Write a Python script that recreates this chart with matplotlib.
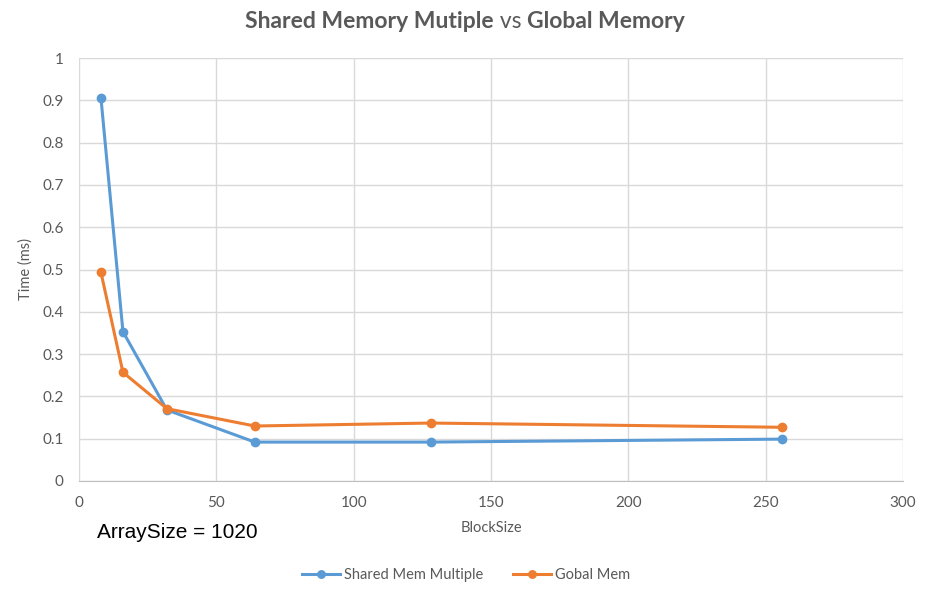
import matplotlib.pyplot as plt

# data
block_size = [8, 16, 32, 64, 128, 256]
shared_mem = [0.905, 0.353, 0.168, 0.092, 0.092, 0.099]
global_mem = [0.493, 0.257, 0.171, 0.130, 0.137, 0.127]

x_ticks = [0, 50, 100, 150, 200, 250, 300]
y_ticks = [0, 0.1, 0.2, 0.3, 0.4, 0.5, 0.6, 0.7, 0.8, 0.9, 1]

blue = '#5B9BD5'
orange = '#ED7D31'
grey_text = '#595959'

plt.rcParams['font.family'] = ['Lato', 'DejaVu Sans']

fig = plt.figure(figsize=(9.31, 5.96), dpi=100)
ax = fig.add_axes([79 / 931, 1 - 481 / 596, (903 - 79) / 931, (481 - 58) / 596])

ax.plot(block_size, shared_mem, color=blue, lw=2.2, marker='o', ms=6,
        label='Shared Mem Multiple', zorder=3)
ax.plot(block_size, global_mem, color=orange, lw=2.2, marker='o', ms=6,
        label='Gobal Mem', zorder=3)

ax.set_xlim(0, 300)
ax.set_ylim(0, 1)
ax.set_xticks(x_ticks)
ax.set_yticks(y_ticks)
ax.set_yticklabels([('%g' % v) for v in y_ticks])
ax.grid(True, color='#D9D9D9', lw=1)
ax.set_axisbelow(True)
for side in ['top', 'right', 'left']:
    ax.spines[side].set_visible(False)
ax.spines['bottom'].set_color('#BFBFBF')
ax.tick_params(length=0, colors=grey_text, labelsize=11)
ax.tick_params(axis='x', pad=11)
ax.tick_params(axis='y', pad=11)

ax.set_xlabel('BlockSize', color=grey_text, fontsize=10.5, labelpad=8)
ax.set_ylabel('Time (ms)', color=grey_text, fontsize=10.5, labelpad=7)

# title: bold parts with a regular "vs" in between
t1 = fig.text(0.5, 1 - 22 / 596, 'Shared Memory Mutiple', fontsize=16.5, fontweight='bold',
              color=grey_text, ha='right', va='center')
t2 = ax.annotate(' vs ', xy=(1, 0), xycoords=t1, va='bottom', ha='left',
                 fontsize=16.5, color=grey_text)
t3 = ax.annotate('Global Memory', xy=(1, 0), xycoords=t2, va='bottom', ha='left',
                 fontsize=16.5, fontweight='bold', color=grey_text)
fig.canvas.draw()
w = t1.get_window_extent().width + t2.get_window_extent().width + t3.get_window_extent().width
t1.set_x((465 - w / 2 + t1.get_window_extent().width) / 931)

fig.text(97 / 931, 1 - 533 / 596, 'ArraySize = 1020', fontsize=15, color='black',
         family=['Liberation Sans', 'DejaVu Sans'], va='center', ha='left')

fig.legend(loc='center', bbox_to_anchor=(466 / 931, 1 - 575 / 596), ncol=2,
           frameon=False, fontsize=10.5, labelcolor=grey_text, handlelength=2.6,
           handletextpad=0.3, columnspacing=2.0, markerscale=0.9)

fig.savefig('out.png', dpi=100)
